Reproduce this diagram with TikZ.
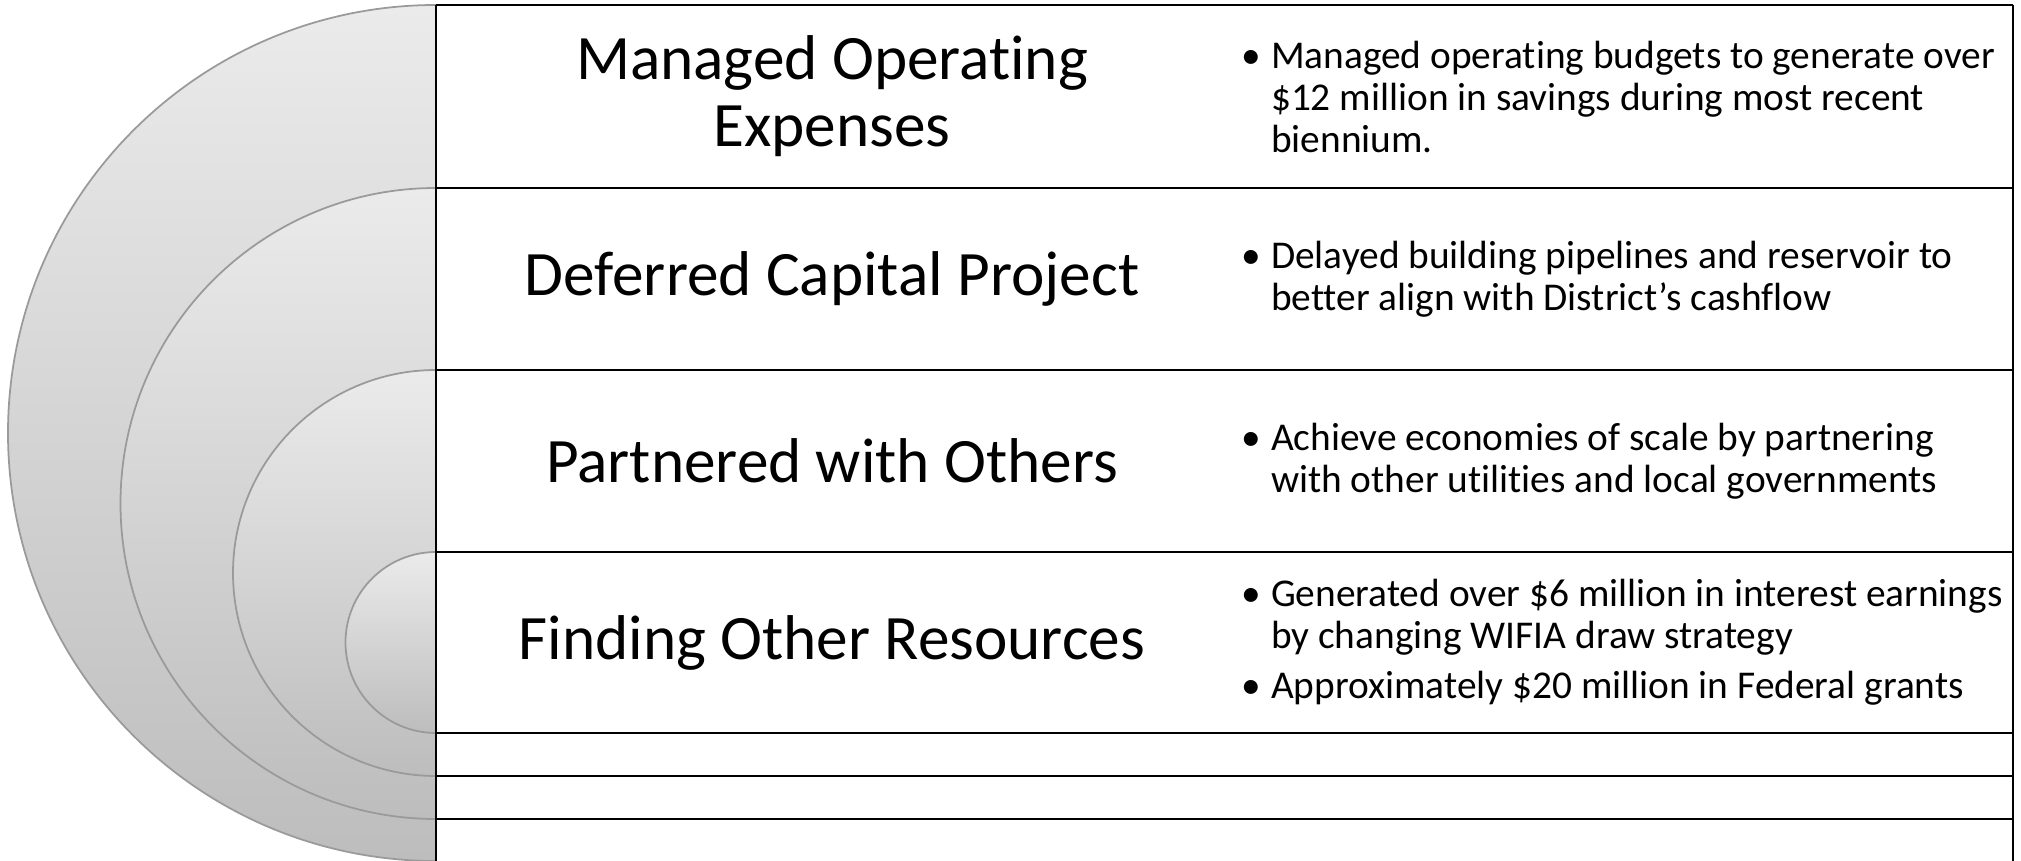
\documentclass[tikz,border=0pt]{standalone}
\usepackage{fontspec}
\setmainfont{Carlito}[Ligatures={NoCommon}]
\usepackage{xcolor,tikz}
\definecolor{ringtop}{HTML}{EBEBEB}
\definecolor{ringbot}{HTML}{BDBDBD}
\definecolor{ringedge}{HTML}{9A9A9A}
\newcommand{\bul}{\makebox[0.30cm][l]{\textbullet}}
\newcommand{\ind}{\hspace*{0.30cm}}

\begin{document}
\begin{tikzpicture}[line width=0.6pt,
  head/.style={font=\fontsize{18}{19}\selectfont,align=center,inner sep=0pt},
  pts/.style={font=\fontsize{11.2}{11.95}\selectfont,align=left,anchor=west,inner sep=0pt}]
  \useasboundingbox (0,0) rectangle (20.21,-8.61);
  % nested half discs, largest first
  \foreach \t/\r in {-0.05/4.28,-1.88/3.155,-3.70/2.03,-5.52/0.905}{
    \path[draw=ringedge,line width=0.5pt,top color=ringtop,bottom color=ringbot]
      (4.36,\t) arc[start angle=90,end angle=270,radius=\r] -- cycle;
  }
  % table rules
  \foreach \y in {-0.05,-1.88,-3.70,-5.52,-7.33,-7.76,-8.19}{
    \draw (4.36,\y) -- (20.13,\y);
  }
  \draw (4.36,-0.05) -- (4.36,-8.61);
  \draw (20.13,-0.05) -- (20.13,-8.61);
  % headings
  \node[head] (t1) at (8.32,-0.965) {Managed Operating\\Expenses};
  \node[head] (t2) at (8.32,-2.79) {Deferred Capital Project};
  \node[head] (t3) at (8.32,-4.61) {Partnered with Others};
  \node[head] (t4) at (8.32,-6.425) {Finding Other Resources};
  % bullet points
  \node[pts] (b1) at (12.40,-0.965) {\bul Managed operating budgets to generate over\\
    \ind\$12 million in savings during most recent\\\ind biennium.};
  \node[pts] (b2) at (12.40,-2.79) {\bul Delayed building pipelines and reservoir to\\
    \ind better align with District’s cashflow};
  \node[pts] (b3) at (12.40,-4.61) {\bul Achieve economies of scale by partnering\\
    \ind with other utilities and local governments};
  \node[pts] (b4) at (12.40,-6.425) {\bul Generated over \$6 million in interest earnings\\
    \ind by changing WIFIA draw strategy\\[0.08cm]
    \bul Approximately \$20 million in Federal grants};
\end{tikzpicture}
\end{document}
